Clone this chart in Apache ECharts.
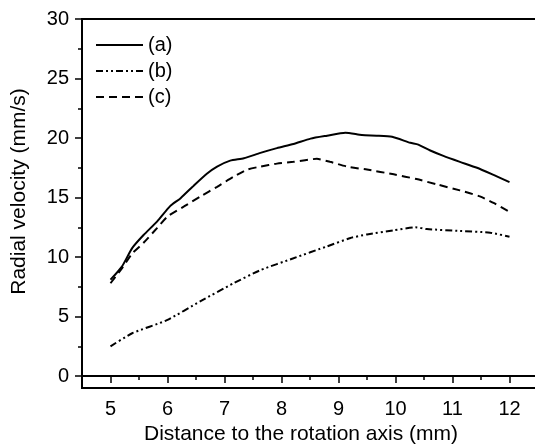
<!DOCTYPE html>
<html>
<head>
<meta charset="utf-8">
<script src="https://cdn.jsdelivr.net/npm/echarts@6/dist/echarts.min.js"></script>
<style>
  html, body { margin: 0; padding: 0; background: #fff; }
  #chart { width: 535px; height: 446px; }
</style>
</head>
<body>
<div id="chart"></div>
<script>
// curve (a), solid
const xA = [5.0, 5.2, 5.38, 5.58, 5.82, 6.05, 6.23, 6.46, 6.69, 6.87, 7.1, 7.34, 7.63, 7.92, 8.21, 8.51, 8.8, 9.12, 9.41, 9.67, 9.94, 10.26, 10.4, 10.61, 10.84, 11.13, 11.43, 11.72, 12.0];
const yA = [8.1, 9.2, 10.75, 11.85, 13.0, 14.3, 14.95, 16.0, 17.0, 17.6, 18.1, 18.3, 18.75, 19.15, 19.5, 19.95, 20.2, 20.45, 20.25, 20.2, 20.1, 19.6, 19.45, 18.95, 18.5, 18.0, 17.5, 16.9, 16.3];
// curve (b), dash-dot-dot
const xB = [5.0, 5.38, 5.99, 6.58, 7.16, 7.63, 8.21, 8.8, 9.21, 9.5, 9.97, 10.35, 10.55, 11.13, 11.66, 12.0];
const yB = [2.5, 3.6, 4.7, 6.3, 7.8, 8.9, 9.9, 10.9, 11.6, 11.9, 12.25, 12.5, 12.35, 12.2, 12.05, 11.7];
// curve (c), dashed
const xC = [5.0, 5.2, 5.38, 5.58, 5.82, 6.0, 6.29, 6.58, 6.87, 7.16, 7.4, 7.63, 7.92, 8.21, 8.62, 8.85, 9.15, 9.5, 9.97, 10.37, 10.73, 11.13, 11.48, 11.72, 11.98];
const yC = [7.8, 9.05, 10.3, 11.2, 12.45, 13.4, 14.25, 15.1, 15.9, 16.75, 17.35, 17.6, 17.85, 18.0, 18.25, 18.0, 17.6, 17.35, 16.95, 16.55, 16.1, 15.6, 15.1, 14.55, 13.85];

const xMajor = [5, 6, 7, 8, 9, 10, 11, 12];
const xMinor = [5.5, 6.5, 7.5, 8.5, 9.5, 10.5, 11.5];
const yMajor = [0, 5, 10, 15, 20, 25, 30];
const yMinor = [2.5, 7.5, 12.5, 17.5, 22.5, 27.5];

const pairs = (xs, ys) => xs.map((x, i) => [x, ys[i]]);
const font = "Liberation Sans, Arial, sans-serif";

const chart = echarts.init(document.getElementById("chart"));
chart.setOption({
  animation: false,
  grid: {
    left: 82, top: 19, width: 456, bottom: 58,
    outerBoundsMode: "none",
    show: true, borderColor: "#000", borderWidth: 2
  },
  legend: {
    orient: "vertical",
    left: 90, top: 30,
    itemWidth: 47, itemHeight: 14, itemGap: 6,
    itemStyle: { opacity: 0 },
    textStyle: { fontFamily: font, fontSize: 20, color: "#000" },
    data: ["(a)", "(b)", "(c)"]
  },
  xAxis: [
    {
      type: "value", min: 4.5, max: 12.5, position: "bottom",
      name: "Distance to the rotation axis (mm)",
      nameLocation: "middle", nameGap: 34,
      nameTextStyle: { fontFamily: font, fontSize: 21, color: "#000", padding: [0, 18, 0, 0] },
      axisLine: { lineStyle: { color: "#000", width: 2 } },
      axisTick: { customValues: xMajor, length: 7, lineStyle: { color: "#000", width: 1.5 } },
      axisLabel: { customValues: xMajor, margin: 11, fontFamily: font, fontSize: 20, color: "#000" },
      splitLine: { show: false }
    },
    {
      type: "value", min: 4.5, max: 12.5, position: "bottom",
      axisLine: { show: false },
      axisTick: { customValues: xMinor, length: 4, lineStyle: { color: "#000", width: 1.5 } },
      axisLabel: { show: false },
      splitLine: { show: false }
    }
  ],
  yAxis: [
    {
      type: "value", min: -1, max: 30, position: "left",
      name: "Radial velocity (mm/s)",
      nameLocation: "middle", nameGap: 52,
      nameTextStyle: { fontFamily: font, fontSize: 21, color: "#000", padding: [0, 0, 0, 24] },
      axisLine: { show: true, lineStyle: { color: "#000", width: 2 } },
      axisTick: { show: true, customValues: yMajor, length: 7, lineStyle: { color: "#000", width: 1.5 } },
      axisLabel: { customValues: yMajor, margin: 13, fontFamily: font, fontSize: 20, color: "#000" },
      splitLine: { show: false }
    },
    {
      type: "value", min: -1, max: 30, position: "left",
      axisLine: { show: false },
      axisTick: { show: true, customValues: yMinor, length: 4, lineStyle: { color: "#000", width: 1.5 } },
      axisLabel: { show: false },
      splitLine: { show: false }
    }
  ],
  series: [
    {
      name: "(a)", type: "line", symbol: "none", smooth: 0.2,
      lineStyle: { color: "#000", width: 2, type: "solid" },
      itemStyle: { color: "#000" },
      data: pairs(xA, yA)
    },
    {
      name: "(b)", type: "line", symbol: "none", smooth: 0.2,
      lineStyle: { color: "#000", width: 2, type: [7, 3, 2, 3, 2, 3] },
      itemStyle: { color: "#000" },
      data: pairs(xB, yB)
    },
    {
      name: "(c)", type: "line", symbol: "none", smooth: 0.2,
      lineStyle: { color: "#000", width: 2, type: [8, 5] },
      itemStyle: { color: "#000" },
      data: pairs(xC, yC)
    }
  ]
});
</script>
</body>
</html>
